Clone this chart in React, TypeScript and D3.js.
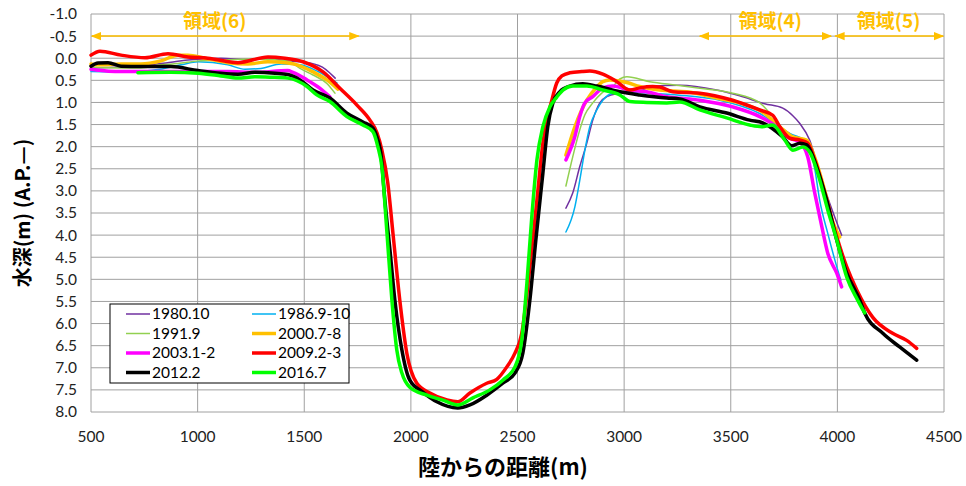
import React, { useEffect, useRef } from "react";
import * as d3 from "d3";

// axis ticks
const xTicks = [500, 1000, 1500, 2000, 2500, 3000, 3500, 4000, 4500];
const yTicks = [-1.0, -0.5, 0.0, 0.5, 1.0, 1.5, 2.0, 2.5, 3.0, 3.5, 4.0, 4.5, 5.0, 5.5, 6.0, 6.5, 7.0, 7.5, 8.0];

// survey profiles [distance (m), depth (m)]
const s1980a = [[500, 0.22], [641, 0.2], [828, 0.12], [955, 0.04], [1109, 0.0], [1236, 0.03], [1330, 0.02], [1423, 0.06], [1527, 0.11], [1600, 0.25], [1645, 0.45]];
const s1980b = [[2727, 3.39], [2759, 3.05], [2792, 2.45], [2825, 1.92], [2853, 1.4], [2886, 1.01], [2919, 0.87], [2980, 0.79], [3088, 0.72], [3120, 0.64], [3261, 0.61], [3434, 0.72], [3542, 0.85], [3659, 1.03], [3744, 1.13], [3791, 1.3], [3823, 1.47], [3870, 1.85], [3917, 2.6], [3964, 3.28], [4020, 4.0]];
const s1986a = [[500, 0.3], [673, 0.31], [823, 0.25], [922, 0.15], [1002, 0.08], [1142, 0.15], [1222, 0.25], [1297, 0.23], [1391, 0.13], [1480, 0.15], [1564, 0.3], [1653, 0.56]];
const s1986b = [[2727, 3.93], [2769, 3.36], [2792, 2.76], [2816, 2.08], [2839, 1.55], [2872, 1.17], [2900, 0.95], [2947, 0.79], [3013, 0.76], [3120, 0.79], [3294, 0.85], [3448, 0.95], [3636, 1.25], [3777, 1.7], [3856, 1.88], [3894, 2.5], [3917, 3.21], [3955, 3.96], [3988, 4.56], [4016, 5.02]];
const s1991a = [[500, 0.2], [641, 0.22], [734, 0.22], [828, 0.15], [908, 0.12], [1002, 0.06], [1109, 0.04], [1269, 0.02], [1423, 0.06], [1480, 0.23], [1541, 0.38], [1606, 0.57], [1644, 0.79]];
const s1991b = [[2727, 2.89], [2759, 2.23], [2792, 1.62], [2816, 1.28], [2853, 1.01], [2895, 0.79], [2947, 0.64], [2980, 0.47], [3013, 0.42], [3120, 0.53], [3247, 0.61], [3355, 0.68], [3509, 0.79], [3636, 1.01], [3697, 1.32], [3777, 1.77], [3838, 1.89], [3894, 2.4], [3950, 3.3], [4002, 4.0]];
const s2000a = [[500, 0.13], [547, 0.15], [641, 0.13], [734, 0.13], [828, 0.06], [908, -0.07], [955, -0.07], [1034, 0.0], [1142, 0.1], [1236, 0.13], [1330, 0.08], [1423, 0.11], [1466, 0.15], [1541, 0.31], [1606, 0.49], [1658, 0.7]];
const s2000b = [[2727, 2.19], [2769, 1.55], [2825, 0.95], [2872, 0.65], [2900, 0.53], [2933, 0.49], [3013, 0.55], [3073, 0.64], [3167, 0.72], [3294, 0.76], [3434, 0.9], [3542, 1.01], [3650, 1.22], [3730, 1.55], [3791, 1.78], [3856, 1.85], [3894, 2.25], [3941, 3.0], [3978, 3.7], [4011, 4.04]];
const s2003a = [[500, 0.25], [533, 0.27], [613, 0.3], [720, 0.3], [875, 0.3], [1002, 0.3], [1142, 0.3], [1269, 0.32], [1423, 0.28], [1447, 0.32], [1513, 0.49], [1574, 0.68], [1620, 0.87]];
const s2003b = [[2727, 2.3], [2769, 1.77], [2792, 1.32], [2816, 1.01], [2853, 0.87], [2900, 0.67], [2947, 0.63], [3027, 0.72], [3106, 0.76], [3200, 0.87], [3355, 0.95], [3509, 1.1], [3636, 1.32], [3716, 1.55], [3777, 1.81], [3823, 1.89], [3861, 2.23], [3894, 3.05], [3927, 3.81], [3955, 4.41], [3997, 4.86], [4020, 5.17]];
const s2009 = [[500, -0.07], [542, -0.16], [641, -0.07], [753, -0.01], [861, -0.1], [955, -0.03], [1048, 0.0], [1189, 0.1], [1330, -0.03], [1409, 0.0], [1494, 0.08], [1588, 0.31], [1667, 0.68], [1747, 1.06], [1808, 1.4], [1841, 1.69], [1864, 2.08], [1892, 2.83], [1916, 3.96], [1948, 5.47], [1981, 6.67], [2028, 7.35], [2089, 7.57], [2169, 7.73], [2220, 7.77], [2277, 7.57], [2356, 7.35], [2403, 7.26], [2450, 6.98], [2488, 6.67], [2520, 6.22], [2558, 4.72], [2591, 3.21], [2619, 1.92], [2661, 0.95], [2684, 0.56], [2708, 0.4], [2745, 0.33], [2802, 0.3], [2839, 0.29], [2900, 0.36], [2966, 0.53], [3027, 0.72], [3073, 0.67], [3134, 0.64], [3167, 0.65], [3228, 0.76], [3355, 0.79], [3509, 0.95], [3636, 1.17], [3697, 1.29], [3730, 1.55], [3777, 1.81], [3823, 1.85], [3861, 1.92], [3894, 2.3], [3941, 3.05], [3997, 4.04], [4044, 4.72], [4091, 5.24], [4166, 5.86], [4259, 6.22], [4325, 6.38], [4372, 6.56]];
const s2012 = [[500, 0.18], [533, 0.11], [580, 0.1], [641, 0.18], [734, 0.19], [875, 0.19], [1002, 0.28], [1109, 0.34], [1189, 0.36], [1269, 0.32], [1363, 0.34], [1423, 0.37], [1480, 0.49], [1541, 0.72], [1620, 0.9], [1700, 1.24], [1775, 1.44], [1822, 1.58], [1845, 1.85], [1859, 2.15], [1878, 3.21], [1902, 4.34], [1925, 5.47], [1958, 6.6], [1995, 7.28], [2056, 7.55], [2122, 7.77], [2220, 7.91], [2277, 7.84], [2356, 7.62], [2431, 7.35], [2488, 7.12], [2525, 6.67], [2558, 5.47], [2586, 4.11], [2619, 2.6], [2642, 1.55], [2666, 1.01], [2698, 0.76], [2745, 0.63], [2806, 0.58], [2872, 0.63], [2980, 0.76], [3073, 0.83], [3200, 0.9], [3261, 0.92], [3355, 1.1], [3481, 1.24], [3589, 1.4], [3650, 1.46], [3744, 1.78], [3786, 1.98], [3823, 1.92], [3856, 1.96], [3903, 2.46], [3950, 3.21], [3997, 4.11], [4044, 4.86], [4105, 5.47], [4128, 5.76], [4213, 6.22], [4292, 6.53], [4372, 6.83]];
const s2016 = [[720, 0.33], [875, 0.32], [1002, 0.34], [1109, 0.4], [1189, 0.45], [1269, 0.42], [1344, 0.43], [1423, 0.45], [1513, 0.64], [1559, 0.83], [1620, 0.98], [1700, 1.32], [1775, 1.51], [1822, 1.66], [1845, 2.0], [1864, 2.46], [1888, 3.96], [1911, 5.47], [1934, 6.6], [1958, 7.12], [1995, 7.44], [2075, 7.62], [2150, 7.73], [2220, 7.84], [2291, 7.68], [2370, 7.5], [2431, 7.28], [2488, 6.98], [2520, 6.37], [2544, 5.09], [2567, 3.59], [2591, 2.3], [2619, 1.55], [2652, 1.1], [2684, 0.88], [2713, 0.72], [2759, 0.63], [2825, 0.63], [2900, 0.72], [2980, 0.83], [3027, 0.98], [3106, 1.0], [3200, 1.01], [3261, 0.99], [3355, 1.17], [3481, 1.35], [3589, 1.51], [3645, 1.55], [3697, 1.51], [3753, 1.85], [3791, 2.08], [3838, 2.01], [3870, 2.12], [3908, 2.6], [3955, 3.43], [3997, 4.11], [4044, 4.95], [4095, 5.47], [4128, 5.76]];

const series = [
  { name: "1980.10", color: "#7030A0", width: 1.5, parts: [s1980a, s1980b] },
  { name: "1986.9-10", color: "#00B0F0", width: 1.5, parts: [s1986a, s1986b] },
  { name: "1991.9", color: "#92D050", width: 1.5, parts: [s1991a, s1991b] },
  { name: "2000.7-8", color: "#FFC000", width: 3.5, parts: [s2000a, s2000b] },
  { name: "2003.1-2", color: "#FF00FF", width: 3.5, parts: [s2003a, s2003b] },
  { name: "2009.2-3", color: "#FF0000", width: 3.5, parts: [s2009] },
  { name: "2012.2", color: "#000000", width: 3.5, parts: [s2012] },
  { name: "2016.7", color: "#00FF00", width: 3.5, parts: [s2016] },
];

// region annotations
const regions = [
  { label: "領域(6)", from: 500, to: 1760, textAt: 1080 },
  { label: "領域(4)", from: 3350, to: 3975, textAt: 3685 },
  { label: "領域(5)", from: 3985, to: 4500, textAt: 4240 },
];

export default function App() {
  const ref = useRef<SVGSVGElement>(null);

  useEffect(() => {
    document.body.style.margin = "0";
    const width = 966, height = 486;
    const m = { left: 91, right: 22, top: 14, bottom: 74 };
    const svg = d3.select(ref.current);
    svg.selectAll("*").remove();
    svg.append("rect").attr("width", width).attr("height", height).attr("fill", "white");

    const x = d3.scaleLinear().domain([500, 4500]).range([m.left, width - m.right]);
    const y = d3.scaleLinear().domain([-1, 8]).range([m.top, height - m.bottom]);
    const font = "Lato, 'Noto Sans', sans-serif";
    const cjk = "'Noto Sans CJK JP', sans-serif";

    // grid
    svg.append("g").selectAll("line").data(yTicks).enter().append("line")
      .attr("x1", m.left).attr("x2", width - m.right)
      .attr("y1", d => y(d)).attr("y2", d => y(d))
      .attr("stroke", "#a0a0a0").attr("stroke-width", 1);
    svg.append("g").selectAll("line").data(xTicks).enter().append("line")
      .attr("x1", d => x(d)).attr("x2", d => x(d))
      .attr("y1", m.top).attr("y2", height - m.bottom)
      .attr("stroke", "#a0a0a0").attr("stroke-width", 1);

    // tick labels
    svg.append("g").selectAll("text").data(yTicks).enter().append("text")
      .attr("x", 77).attr("y", d => y(d)).attr("dy", "0.35em")
      .attr("text-anchor", "end").attr("font-family", font).attr("font-size", 15.5)
      .attr("fill", "#222").text(d => d.toFixed(1));
    svg.append("g").selectAll("text").data(xTicks).enter().append("text")
      .attr("x", d => x(d)).attr("y", height - m.bottom + 25).attr("dy", "0.35em")
      .attr("text-anchor", "middle").attr("font-family", font).attr("font-size", 15.5)
      .attr("fill", "#222").text(d => d);

    // titles
    svg.append("text")
      .attr("transform", `translate(23, ${(m.top + height - m.bottom) / 2}) rotate(-90)`)
      .attr("text-anchor", "middle").attr("dy", "0.35em")
      .attr("font-family", cjk).attr("font-weight", "bold")
      .attr("font-size", 20).text("水深(m) (A.P.—)");
    svg.append("text")
      .attr("x", 503).attr("y", 467).attr("dy", "0.35em")
      .attr("text-anchor", "middle")
      .attr("font-family", cjk).attr("font-weight", "bold")
      .attr("font-size", 22).text("陸からの距離(m)");

    // region arrows
    const gold = "#FFC000";
    const defs = svg.append("defs");
    defs.append("marker").attr("id", "ah").attr("viewBox", "0 0 10 10")
      .attr("refX", 9).attr("refY", 5).attr("markerWidth", 7).attr("markerHeight", 7)
      .attr("orient", "auto-start-reverse")
      .append("path").attr("d", "M0,1 L10,5 L0,9 Z").attr("fill", gold);
    const rg = svg.append("g");
    regions.forEach(r => {
      rg.append("line")
        .attr("x1", x(r.from) + 1).attr("x2", x(r.to) - 1)
        .attr("y1", y(-0.5)).attr("y2", y(-0.5))
        .attr("stroke", gold).attr("stroke-width", 1.5)
        .attr("marker-start", "url(#ah)").attr("marker-end", "url(#ah)");
      rg.append("text")
        .attr("x", x(r.textAt)).attr("y", y(-0.84)).attr("dy", "0.35em")
        .attr("text-anchor", "middle").attr("fill", gold)
        .attr("font-family", cjk).attr("font-weight", "bold")
        .attr("font-size", 19).text(r.label);
    });

    // lines
    const line = d3.line<number[]>().x(d => x(d[0])).y(d => y(d[1])).curve(d3.curveMonotoneX);
    const lg = svg.append("g");
    series.forEach(s => {
      s.parts.forEach(p => {
        lg.append("path").attr("d", line(p))
          .attr("fill", "none").attr("stroke", s.color)
          .attr("stroke-width", s.width).attr("stroke-linejoin", "round").attr("stroke-linecap", "round");
      });
    });

    // legend
    const leg = svg.append("g").attr("transform", "translate(110,304)");
    leg.append("rect").attr("width", 239).attr("height", 79)
      .attr("fill", "white").attr("stroke", "#000").attr("stroke-width", 1);
    series.forEach((s, i) => {
      const col = i % 2, row = Math.floor(i / 2);
      const gx = col === 0 ? 16 : 142;
      const gy = 10 + row * 19.5;
      leg.append("line").attr("x1", gx).attr("x2", gx + 24).attr("y1", gy).attr("y2", gy)
        .attr("stroke", s.color).attr("stroke-width", s.width);
      leg.append("text").attr("x", gx + 26).attr("y", gy).attr("dy", "0.35em")
        .attr("font-family", font).attr("font-size", 15.5).attr("fill", "#000").text(s.name);
    });
  }, []);

  return <svg ref={ref} width={966} height={486} style={{ display: "block" }} />;
}
